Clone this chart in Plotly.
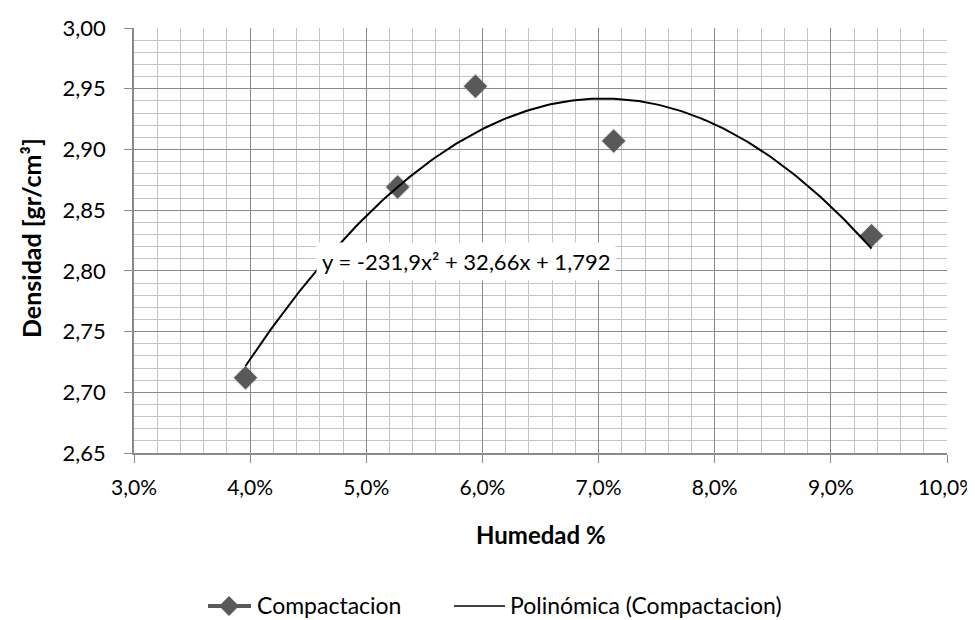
import numpy as np
import plotly.graph_objects as go

humedad = [0.0396, 0.0527, 0.0594, 0.0713, 0.0935]
densidad = [2.712, 2.869, 2.952, 2.907, 2.829]
trend_coef = [-231.9, 32.66, 1.792]
equation_text = "y = -231,9x² + 32,66x + 1,792"
x_ticks = [0.03, 0.04, 0.05, 0.06, 0.07, 0.08, 0.09, 0.10]
y_ticks = [2.65, 2.70, 2.75, 2.80, 2.85, 2.90, 2.95, 3.00]
serie1 = "Compactacion"
serie2 = "Polinómica (Compactacion)"

FONT = "Lato, 'Open Sans', sans-serif"
FS = 22
W, H = 975, 620
L, R, T, B = 126, 36, 20, 175
PW, PH = W - L - R, H - T - B


def px(xp):
    return (xp - L) / PW


def py(yp):
    return (H - B - yp) / PH


xt = np.linspace(min(humedad), max(humedad), 200)
yt = np.polyval(trend_coef, xt)

fig = go.Figure()
fig.add_trace(go.Scatter(
    x=humedad, y=densidad, mode="markers", name=serie1,
    marker=dict(symbol="diamond", size=21, color="rgba(150,150,150,0.16)", line=dict(width=0)),
    showlegend=False, hoverinfo="skip"))
fig.add_trace(go.Scatter(
    x=humedad, y=densidad, mode="markers", name=serie1,
    marker=dict(symbol="diamond", size=18, color="#595959", line=dict(width=0)),
    showlegend=False))
fig.add_trace(go.Scatter(
    x=xt, y=yt, mode="lines", name=serie2,
    line=dict(color="black", width=2), showlegend=False))

fig.add_annotation(x=0.0457, y=2.808, xanchor="left", yanchor="middle",
                   text=equation_text, showarrow=False, borderpad=5,
                   font=dict(family=FONT, size=FS, color="black"),
                   bgcolor="white", xref="x", yref="y")

# axis titles
fig.add_annotation(x=px((L + W - R) / 2), y=py(526), xref="paper", yref="paper",
                   xanchor="center", yanchor="middle",
                   text="<b>Humedad %</b>", showarrow=False,
                   font=dict(family=FONT, size=24, color="black"))
fig.add_annotation(x=px(23), y=py(230), xref="paper", yref="paper",
                   xanchor="center", yanchor="middle",
                   text="<b>Densidad [gr/cm³]</b>", showarrow=False, textangle=-90,
                   font=dict(family=FONT, size=25, color="black"))

# manual legend
ly = 598
fig.add_shape(type="line", xref="paper", yref="paper",
              x0=px(200), x1=px(243), y0=py(ly), y1=py(ly),
              line=dict(color="#595959", width=4))
d = 10
fig.add_shape(type="path", xref="paper", yref="paper",
              path=(f"M {px(221 - d)} {py(ly)} L {px(221)} {py(ly - d)} "
                    f"L {px(221 + d)} {py(ly)} L {px(221)} {py(ly + d)} Z"),
              fillcolor="#595959", line=dict(width=0))
fig.add_annotation(x=px(247), y=py(ly - 1), xref="paper", yref="paper", xanchor="left",
                   yanchor="middle", text=serie1, showarrow=False,
                   font=dict(family=FONT, size=23, color="black"))
fig.add_shape(type="line", xref="paper", yref="paper",
              x0=px(446), x1=px(497), y0=py(ly), y1=py(ly),
              line=dict(color="black", width=1.5))
fig.add_annotation(x=px(500), y=py(ly - 1), xref="paper", yref="paper", xanchor="left",
                   yanchor="middle", text=serie2, showarrow=False,
                   font=dict(family=FONT, size=23, color="black"))

fig.update_layout(
    width=W, height=H,
    margin=dict(l=L, r=R, t=T, b=B, autoexpand=False),
    paper_bgcolor="white", plot_bgcolor="white",
    separators=",.",
    font=dict(family=FONT, size=FS, color="black"),
    showlegend=False,
)
fig.update_xaxes(
    range=[0.03, 0.10], tickvals=x_ticks, tickformat=".1%",
    tickfont=dict(size=21),
    showgrid=True, gridcolor="#8a8a8a", gridwidth=1,
    minor=dict(dtick=0.002, tick0=0.03, showgrid=True, gridcolor="#c4c4c4", gridwidth=1.3),
    showline=True, linecolor="#8a8a8a", linewidth=1.5,
    ticks="outside", ticklen=8, tickcolor="#8a8a8a",
    ticklabelstandoff=7, automargin=False,
    zeroline=False,
)
fig.update_yaxes(
    range=[2.65, 3.00], tickvals=y_ticks, tickformat=".2f",
    showgrid=True, gridcolor="#8a8a8a", gridwidth=1,
    minor=dict(dtick=0.01, tick0=2.65, showgrid=True, gridcolor="#c4c4c4", gridwidth=1.3),
    showline=True, linecolor="#8a8a8a", linewidth=1.5,
    ticks="outside", ticklen=8, tickcolor="#8a8a8a",
    ticklabelstandoff=14, automargin=False,
    zeroline=False,
)
fig.write_html("out.html")
